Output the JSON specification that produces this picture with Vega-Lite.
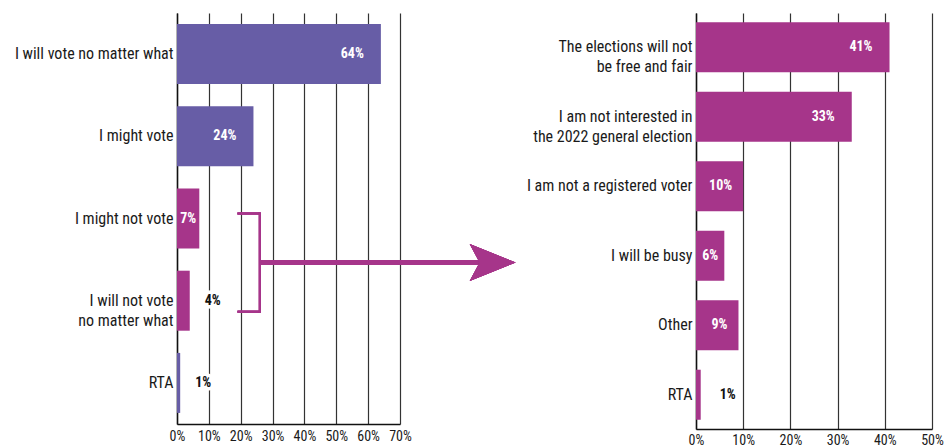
{
  "$schema": "https://vega.github.io/schema/vega-lite/v6.json",
  "background": "white",
  "padding": {"left": 14, "top": 13, "right": 0, "bottom": 0},
  "datasets": {
    "left": [
      {"cat": "I will vote no matter what", "value": 64, "grp": "vote"},
      {"cat": "I might vote", "value": 24, "grp": "vote"},
      {"cat": "I might not vote", "value": 7, "grp": "not"},
      {"cat": "I will not vote|no matter what", "value": 4, "grp": "not"},
      {"cat": "RTA", "value": 1, "grp": "rta"}
    ],
    "right": [
      {"cat": "The elections will not|be free and fair", "value": 41},
      {"cat": "I am not interested in|the 2022 general election", "value": 33},
      {"cat": "I am not a registered voter", "value": 10},
      {"cat": "I will be busy", "value": 6},
      {"cat": "Other", "value": 9},
      {"cat": "RTA", "value": 1}
    ]
  },
  "bounds": "flush",
  "spacing": 296,
  "hconcat": [
    {
      "width": 223,
      "height": 411,
      "data": {"name": "left"},
      "transform": [
        {"calculate": "datum.value + '%'", "as": "label"},
        {"calculate": "datum.value / 2", "as": "mid"}
      ],
      "encoding": {
        "y": {
          "field": "cat", "type": "nominal", "sort": null, "title": null,
          "scale": {"domain": ["I will vote no matter what", "I might vote", "I might not vote", "I will not vote|no matter what", "RTA"], "paddingInner": 0.27, "paddingOuter": 0.135},
          "axis": {"labelExpr": "split(datum.label, '|')"}
        }
      },
      "resolve": {"axis": {"x": "independent"}},
      "layer": [
        {
          "mark": {"type": "bar"},
          "encoding": {
            "x": {"field": "value", "type": "quantitative", "title": null,
              "scale": {"domain": [0, 70], "nice": false, "zero": true},
              "axis": {"values": [0, 10, 20, 30, 40, 50, 60, 70], "labelExpr": "datum.value + '%'", "grid": true, "labelOverlap": false, "labelFlush": false}},
            "color": {"field": "grp", "type": "nominal", "legend": null,
              "scale": {"domain": ["vote", "not", "rta"], "range": ["#675DA6", "#A6358A", "#675DA6"]}}
          }
        },
        {
          "transform": [{"filter": "datum.value >= 20"}],
          "mark": {"type": "text", "align": "right", "dx": -17, "color": "white", "fontWeight": "bold", "fontSize": 14},
          "encoding": {"x": {"field": "value", "type": "quantitative", "axis": null}, "text": {"field": "label"}}
        },
        {
          "transform": [{"filter": "datum.value >= 5 && datum.value < 8"}],
          "mark": {"type": "text", "align": "center", "color": "white", "fontWeight": "bold", "fontSize": 14},
          "encoding": {"x": {"field": "mid", "type": "quantitative", "axis": null}, "text": {"field": "label"}}
        },
        {
          "transform": [{"filter": "datum.value < 5"}],
          "mark": {"type": "text", "align": "left", "dx": 15, "fill": "white", "stroke": "white", "strokeWidth": 7, "strokeJoin": "round", "fontWeight": "bold", "fontSize": 14},
          "encoding": {"x": {"field": "value", "type": "quantitative", "axis": null}, "text": {"field": "label"}}
        },
        {
          "transform": [{"filter": "datum.value < 5"}],
          "mark": {"type": "text", "align": "left", "dx": 15, "color": "#111", "fontWeight": "bold", "fontSize": 14},
          "encoding": {"x": {"field": "value", "type": "quantitative", "axis": null}, "text": {"field": "label"}}
        },
        {
          "mark": {"type": "rule", "color": "#A6358A", "strokeWidth": 2, "yOffset": -5},
          "encoding": {"x": {"datum": 19, "type": "quantitative", "axis": null}, "x2": {"datum": 26}, "y": {"datum": "I might not vote", "type": "nominal"}}
        },
        {
          "mark": {"type": "rule", "color": "#A6358A", "strokeWidth": 2, "yOffset": 11},
          "encoding": {"x": {"datum": 19, "type": "quantitative", "axis": null}, "x2": {"datum": 26}, "y": {"datum": "I will not vote|no matter what", "type": "nominal"}}
        },
        {
          "mark": {"type": "rule", "color": "#A6358A", "strokeWidth": 2, "yOffset": -6, "y2Offset": 12},
          "encoding": {"x": {"datum": 26, "type": "quantitative", "axis": null}, "y": {"datum": "I might not vote", "type": "nominal"}, "y2": {"datum": "I will not vote|no matter what"}}
        },
        {
          "mark": {"type": "rule", "color": "#A6358A", "strokeWidth": 5, "yOffset": 44},
          "encoding": {"x": {"datum": 26, "type": "quantitative", "axis": null}, "x2": {"datum": 96}, "y": {"datum": "I might not vote", "type": "nominal"}}
        },
        {
          "mark": {"type": "point", "shape": "M-1,-0.8L1,0L-1,0.8L-0.57,0Z", "filled": true, "size": 2116, "opacity": 1, "color": "#A6358A", "strokeWidth": 0, "yOffset": 44},
          "encoding": {"x": {"datum": 99.1, "type": "quantitative", "axis": null}, "y": {"datum": "I might not vote", "type": "nominal"}}
        }
      ]
    },
    {
      "width": 236,
      "height": 416,
      "data": {"name": "right"},
      "transform": [
        {"calculate": "datum.value + '%'", "as": "label"},
        {"calculate": "datum.value / 2", "as": "mid"}
      ],
      "encoding": {
        "y": {
          "field": "cat", "type": "nominal", "sort": null, "title": null,
          "scale": {"paddingInner": 0.28, "paddingOuter": 0.133},
          "axis": {"labelExpr": "split(datum.label, '|')"}
        }
      },
      "resolve": {"axis": {"x": "independent"}},
      "layer": [
        {
          "mark": {"type": "bar", "color": "#A6358A"},
          "encoding": {
            "x": {"field": "value", "type": "quantitative", "title": null,
              "scale": {"domain": [0, 50], "nice": false, "zero": true},
              "axis": {"values": [0, 10, 20, 30, 40, 50], "labelExpr": "datum.value + '%'", "grid": true, "labelPadding": 4, "labelOverlap": false, "labelFlush": false}}
          }
        },
        {
          "transform": [{"filter": "datum.value >= 20"}],
          "mark": {"type": "text", "align": "right", "dx": -17, "color": "white", "fontWeight": "bold", "fontSize": 14},
          "encoding": {"x": {"field": "value", "type": "quantitative", "axis": null}, "text": {"field": "label"}}
        },
        {
          "transform": [{"filter": "datum.value >= 8 && datum.value < 20"}],
          "mark": {"type": "text", "align": "right", "dx": -11, "color": "white", "fontWeight": "bold", "fontSize": 14},
          "encoding": {"x": {"field": "value", "type": "quantitative", "axis": null}, "text": {"field": "label"}}
        },
        {
          "transform": [{"filter": "datum.value >= 5 && datum.value < 8"}],
          "mark": {"type": "text", "align": "center", "color": "white", "fontWeight": "bold", "fontSize": 14},
          "encoding": {"x": {"field": "mid", "type": "quantitative", "axis": null}, "text": {"field": "label"}}
        },
        {
          "transform": [{"filter": "datum.value < 5"}],
          "mark": {"type": "text", "align": "left", "dx": 19, "color": "#111", "fontWeight": "bold", "fontSize": 14},
          "encoding": {"x": {"field": "value", "type": "quantitative", "axis": null}, "text": {"field": "label"}}
        }
      ]
    }
  ],
  "config": {
    "view": {"stroke": null},
    "font": "Roboto Condensed, Liberation Sans Narrow, Roboto, sans-serif",
    "text": {"font": "Roboto Condensed, Liberation Sans Narrow, Roboto, sans-serif"},
    "axis": {
      "labelFont": "Roboto Condensed, Liberation Sans Narrow, Roboto, sans-serif",
      "labelColor": "#1a1a1a",
      "domainColor": "#111",
      "domainWidth": 1.5,
      "gridColor": "#333",
      "gridWidth": 1.2,
      "ticks": false,
      "title": null
    },
    "axisY": {"labelFontSize": 16, "labelPadding": 4, "labelLineHeight": 20, "grid": false},
    "axisX": {"labelFontSize": 14, "labelPadding": 5, "grid": true}
  }
}
